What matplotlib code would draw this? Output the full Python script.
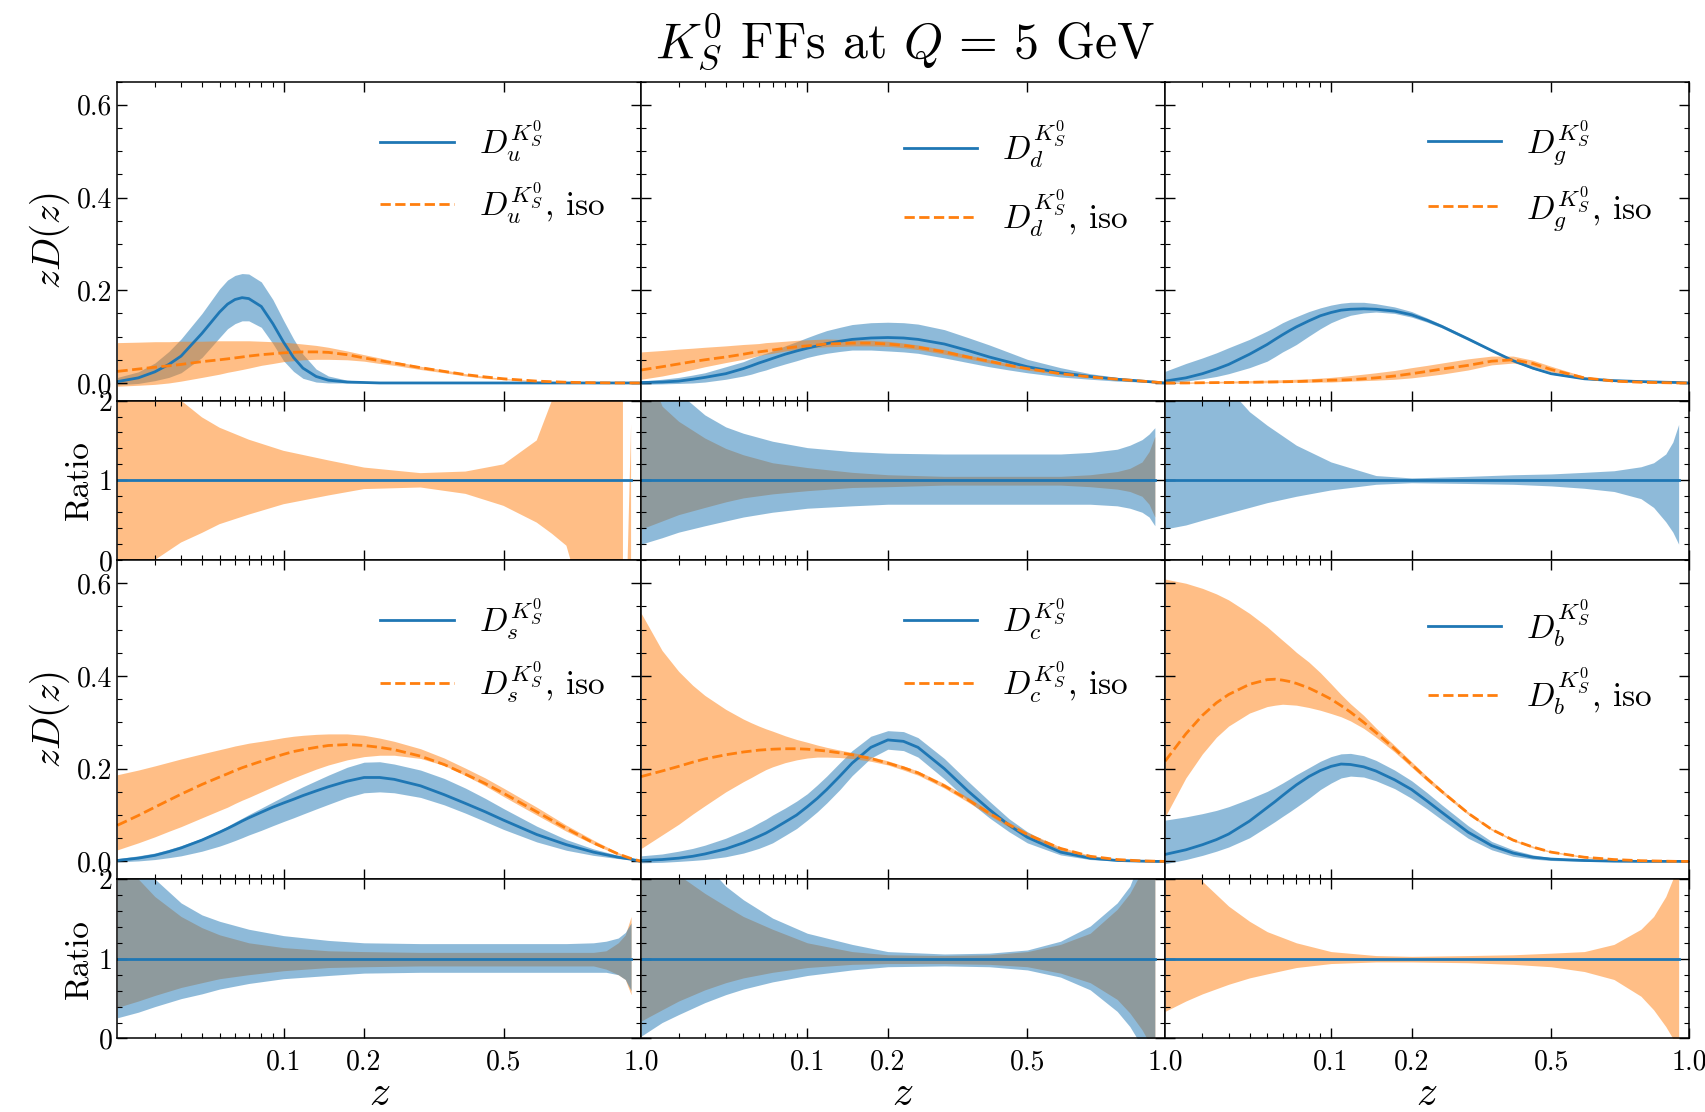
import numpy as np
import matplotlib.pyplot as plt
from matplotlib.ticker import FixedLocator, FixedFormatter, MultipleLocator, FormatStrFormatter

plt.rcParams['mathtext.fontset'] = 'cm'
plt.rcParams['font.family'] = 'serif'
plt.rcParams['font.serif'] = ['cmr10']
plt.rcParams['axes.formatter.use_mathtext'] = True

# z grid of the fragmentation functions
z = [0.01, 0.015, 0.02, 0.025, 0.03, 0.04, 0.05, 0.055, 0.06, 0.065, 0.07, 0.08, 0.09,
     0.1, 0.11, 0.12, 0.135, 0.15, 0.175, 0.2, 0.225, 0.25, 0.3, 0.35, 0.4, 0.45, 0.5,
     0.6, 0.7, 0.8, 0.9, 0.95, 1.0]
# z grid of the ratio bands
zr = [0.01, 0.015, 0.02, 0.03, 0.04, 0.05, 0.07, 0.1, 0.15, 0.2, 0.3, 0.4, 0.5, 0.6,
      0.7, 0.8, 0.85, 0.9, 0.93, 0.955]
zr_u = [0.01, 0.015, 0.02, 0.03, 0.04, 0.05, 0.07, 0.1, 0.15, 0.2, 0.3, 0.4, 0.5, 0.6,
        0.65, 0.7, 0.8, 0.9, 0.92, 0.925, 0.94, 0.955]

# zD(z): central value, lower and upper edge of the band
u_c = [0.003, 0.011, 0.024, 0.040, 0.058, 0.107, 0.153, 0.170, 0.180, 0.184, 0.182, 0.165, 0.128,
       0.088, 0.055, 0.032, 0.014, 0.006, 0.002, 0.001, 0, 0, 0, 0, 0, 0, 0,
       0, 0, 0, 0, 0, 0]
u_lo = [-0.004, -0.001, 0.005, 0.012, 0.022, 0.055, 0.098, 0.117, 0.128, 0.134, 0.134, 0.120, 0.085,
        0.048, 0.025, 0.010, 0.002, 0, 0, 0, 0, 0, 0, 0, 0, 0, 0,
        0, 0, 0, 0, 0, 0]
u_hi = [0.012, 0.024, 0.043, 0.068, 0.095, 0.150, 0.203, 0.222, 0.232, 0.236, 0.235, 0.218, 0.180,
        0.135, 0.095, 0.062, 0.030, 0.015, 0.006, 0.003, 0.0015, 0.001, 0, 0, 0, 0, 0,
        0, 0, 0, 0, 0, 0]
u_iso_c = [0.025, 0.030, 0.034, 0.037, 0.040, 0.046, 0.050, 0.052, 0.054, 0.056, 0.058, 0.061, 0.063,
           0.065, 0.066, 0.067, 0.067, 0.066, 0.061, 0.054, 0.048, 0.043, 0.033, 0.025, 0.018, 0.013, 0.009,
           0.004, 0.0015, 0.0005, 0, 0, 0]
u_iso_lo = [-0.007, -0.005, -0.003, 0.0, 0.004, 0.012, 0.019, 0.023, 0.026, 0.029, 0.032, 0.038, 0.042,
            0.046, 0.048, 0.050, 0.051, 0.051, 0.050, 0.047, 0.042, 0.038, 0.029, 0.022, 0.015, 0.010, 0.007,
            0.003, 0.001, 0.0003, 0, 0, 0]
u_iso_hi = [0.087, 0.088, 0.089, 0.089, 0.090, 0.090, 0.091, 0.091, 0.091, 0.091, 0.091, 0.090, 0.089,
            0.088, 0.086, 0.084, 0.081, 0.077, 0.069, 0.061, 0.054, 0.047, 0.036, 0.028, 0.020, 0.014, 0.010,
            0.0045, 0.002, 0.0007, 0.0002, 0, 0]

d_c = [0.001, 0.002, 0.004, 0.008, 0.012, 0.020, 0.031, 0.037, 0.043, 0.048, 0.053, 0.062, 0.069,
       0.075, 0.080, 0.085, 0.090, 0.094, 0.097, 0.098, 0.097, 0.094, 0.084, 0.070, 0.056, 0.045, 0.035,
       0.022, 0.014, 0.008, 0.004, 0.002, 0.0]
d_lo = [-0.003, -0.002, -0.001, 0.0, 0.002, 0.008, 0.015, 0.019, 0.024, 0.028, 0.033, 0.041, 0.048,
        0.055, 0.060, 0.064, 0.068, 0.071, 0.071, 0.069, 0.067, 0.064, 0.054, 0.044, 0.035, 0.028, 0.022,
        0.013, 0.008, 0.004, 0.002, 0.001, 0.0]
d_hi = [0.004, 0.008, 0.012, 0.017, 0.022, 0.035, 0.046, 0.053, 0.059, 0.064, 0.069, 0.080, 0.089,
        0.098, 0.106, 0.113, 0.120, 0.126, 0.130, 0.131, 0.130, 0.127, 0.115, 0.098, 0.082, 0.066, 0.051,
        0.033, 0.020, 0.012, 0.006, 0.003, 0.0]
d_iso_c = [0.028, 0.035, 0.041, 0.046, 0.050, 0.056, 0.062, 0.065, 0.067, 0.069, 0.071, 0.075, 0.078,
           0.080, 0.082, 0.084, 0.085, 0.086, 0.086, 0.084, 0.081, 0.077, 0.067, 0.056, 0.047, 0.038, 0.031,
           0.020, 0.013, 0.008, 0.004, 0.002, 0.0]
d_iso_lo = [0.008, 0.015, 0.022, 0.029, 0.035, 0.044, 0.051, 0.055, 0.059, 0.062, 0.064, 0.069, 0.072,
            0.075, 0.077, 0.078, 0.079, 0.080, 0.080, 0.079, 0.076, 0.072, 0.062, 0.052, 0.043, 0.035, 0.028,
            0.018, 0.012, 0.007, 0.0035, 0.0018, 0.0]
d_iso_hi = [0.067, 0.070, 0.073, 0.075, 0.077, 0.080, 0.083, 0.084, 0.085, 0.087, 0.088, 0.090, 0.092,
            0.093, 0.094, 0.095, 0.094, 0.093, 0.092, 0.090, 0.086, 0.082, 0.072, 0.060, 0.050, 0.041, 0.033,
            0.022, 0.014, 0.009, 0.0045, 0.0022, 0.0]

g_c = [0.004, 0.011, 0.020, 0.030, 0.040, 0.062, 0.083, 0.094, 0.104, 0.113, 0.121, 0.134, 0.145,
       0.152, 0.157, 0.159, 0.160, 0.159, 0.155, 0.147, 0.135, 0.122, 0.095, 0.070, 0.048, 0.032, 0.020,
       0.009, 0.005, 0.003, 0.0015, 0.001, 0.0]
g_lo = [0.0, 0.004, 0.009, 0.014, 0.020, 0.033, 0.047, 0.057, 0.067, 0.075, 0.083, 0.101, 0.117,
        0.130, 0.139, 0.146, 0.151, 0.153, 0.150, 0.142, 0.131, 0.119, 0.092, 0.068, 0.046, 0.030, 0.019,
        0.008, 0.0045, 0.0027, 0.0013, 0.0009, 0.0]
g_hi = [0.025, 0.042, 0.054, 0.065, 0.076, 0.094, 0.112, 0.121, 0.130, 0.137, 0.143, 0.154, 0.162,
        0.168, 0.172, 0.174, 0.174, 0.171, 0.164, 0.154, 0.140, 0.126, 0.098, 0.072, 0.050, 0.034, 0.021,
        0.010, 0.0055, 0.0033, 0.0017, 0.0011, 0.0]
g_iso_c = [0.0, 0.0, 0.0005, 0.0008, 0.001, 0.0015, 0.002, 0.0022, 0.0025, 0.0028, 0.003, 0.004, 0.005,
           0.006, 0.0065, 0.007, 0.009, 0.011, 0.015, 0.020, 0.025, 0.030, 0.038, 0.047, 0.050, 0.042, 0.029,
           0.011, 0.004, 0.0015, 0.0005, 0.0, 0.0]
g_iso_lo = [-0.001, -0.001, -0.0005, 0.0, 0.0, 0.0, 0.0005, 0.0008, 0.001, 0.0012, 0.0015, 0.0015, 0.002,
            0.002, 0.003, 0.004, 0.005, 0.006, 0.008, 0.011, 0.015, 0.019, 0.028, 0.039, 0.043, 0.036, 0.024,
            0.009, 0.003, 0.001, 0.0003, 0.0, 0.0]
g_iso_hi = [0.0015, 0.002, 0.003, 0.0035, 0.004, 0.005, 0.006, 0.0065, 0.007, 0.0075, 0.008, 0.009, 0.0105,
            0.012, 0.014, 0.016, 0.019, 0.022, 0.027, 0.033, 0.038, 0.043, 0.052, 0.058, 0.058, 0.049, 0.036,
            0.014, 0.006, 0.002, 0.0007, 0.0002, 0.0]

s_c = [0.002, 0.007, 0.013, 0.021, 0.029, 0.046, 0.063, 0.071, 0.079, 0.087, 0.094, 0.106, 0.117,
       0.126, 0.134, 0.142, 0.152, 0.161, 0.173, 0.181, 0.181, 0.177, 0.163, 0.144, 0.125, 0.107, 0.089,
       0.058, 0.036, 0.020, 0.009, 0.005, 0.0]
s_lo = [-0.001, 0.001, 0.004, 0.008, 0.012, 0.022, 0.033, 0.039, 0.045, 0.051, 0.057, 0.067, 0.077,
        0.086, 0.094, 0.102, 0.113, 0.123, 0.138, 0.148, 0.150, 0.148, 0.138, 0.122, 0.104, 0.086, 0.069,
        0.042, 0.024, 0.013, 0.006, 0.004, 0.0]
s_hi = [0.006, 0.012, 0.018, 0.026, 0.034, 0.050, 0.067, 0.076, 0.085, 0.093, 0.101, 0.115, 0.128,
        0.140, 0.151, 0.161, 0.174, 0.186, 0.203, 0.214, 0.215, 0.210, 0.197, 0.179, 0.158, 0.136, 0.114,
        0.076, 0.047, 0.027, 0.013, 0.007, 0.0]
s_iso_c = [0.078, 0.099, 0.117, 0.132, 0.145, 0.166, 0.182, 0.189, 0.196, 0.202, 0.207, 0.216, 0.224,
           0.231, 0.237, 0.241, 0.246, 0.250, 0.252, 0.250, 0.246, 0.241, 0.227, 0.209, 0.188, 0.168, 0.147,
           0.107, 0.071, 0.040, 0.016, 0.007, 0.0]
s_iso_lo = [0.025, 0.040, 0.053, 0.065, 0.075, 0.094, 0.110, 0.117, 0.125, 0.132, 0.138, 0.150, 0.161,
            0.171, 0.180, 0.188, 0.199, 0.208, 0.219, 0.226, 0.229, 0.229, 0.222, 0.207, 0.185, 0.163, 0.140,
            0.100, 0.065, 0.037, 0.014, 0.006, 0.0]
s_iso_hi = [0.187, 0.197, 0.206, 0.214, 0.221, 0.232, 0.241, 0.245, 0.249, 0.252, 0.255, 0.259, 0.263,
            0.267, 0.270, 0.272, 0.274, 0.275, 0.275, 0.272, 0.266, 0.259, 0.243, 0.223, 0.201, 0.180, 0.158,
            0.117, 0.078, 0.046, 0.019, 0.009, 0.0]

c_c = [0.002, 0.004, 0.007, 0.011, 0.016, 0.027, 0.040, 0.047, 0.054, 0.061, 0.069, 0.085, 0.100,
       0.118, 0.136, 0.155, 0.184, 0.212, 0.246, 0.262, 0.259, 0.246, 0.200, 0.152, 0.112, 0.078, 0.052,
       0.020, 0.007, 0.002, 0.0005, 0.0, 0.0]
c_lo = [-0.003, -0.002, 0.0, 0.002, 0.004, 0.010, 0.018, 0.023, 0.028, 0.034, 0.040, 0.056, 0.071,
        0.089, 0.107, 0.126, 0.155, 0.185, 0.223, 0.242, 0.239, 0.225, 0.178, 0.131, 0.094, 0.064, 0.040,
        0.014, 0.004, 0.001, 0.0, 0.0, 0.0]
c_hi = [0.012, 0.016, 0.022, 0.028, 0.035, 0.050, 0.066, 0.074, 0.083, 0.091, 0.100, 0.115, 0.130,
        0.146, 0.165, 0.184, 0.213, 0.239, 0.270, 0.282, 0.280, 0.267, 0.222, 0.173, 0.130, 0.092, 0.064,
        0.026, 0.010, 0.003, 0.001, 0.0, 0.0]
c_iso_c = [0.183, 0.195, 0.205, 0.214, 0.221, 0.230, 0.236, 0.238, 0.240, 0.241, 0.242, 0.243, 0.243,
           0.242, 0.240, 0.238, 0.234, 0.230, 0.222, 0.212, 0.202, 0.191, 0.163, 0.133, 0.104, 0.079, 0.058,
           0.028, 0.011, 0.004, 0.001, 0.0005, 0.0]
c_iso_lo = [0.028, 0.057, 0.080, 0.102, 0.120, 0.150, 0.172, 0.181, 0.190, 0.198, 0.204, 0.213, 0.219,
            0.223, 0.225, 0.225, 0.224, 0.222, 0.216, 0.208, 0.197, 0.186, 0.158, 0.128, 0.099, 0.074, 0.053,
            0.024, 0.009, 0.004, 0.001, 0.0, 0.0]
c_iso_hi = [0.535, 0.455, 0.410, 0.380, 0.358, 0.328, 0.307, 0.299, 0.292, 0.286, 0.281, 0.271, 0.263,
            0.257, 0.251, 0.246, 0.240, 0.235, 0.226, 0.217, 0.206, 0.195, 0.168, 0.138, 0.109, 0.084, 0.063,
            0.031, 0.013, 0.005, 0.0015, 0.0007, 0.0]

b_c = [0.015, 0.025, 0.036, 0.047, 0.059, 0.087, 0.116, 0.129, 0.142, 0.154, 0.165, 0.183, 0.196,
       0.205, 0.210, 0.209, 0.204, 0.195, 0.176, 0.155, 0.130, 0.106, 0.063, 0.034, 0.018, 0.009, 0.005,
       0.002, 0.0005, 0.0, 0.0, 0.0, 0.0]
b_lo = [-0.005, 0.004, 0.013, 0.022, 0.031, 0.051, 0.075, 0.086, 0.097, 0.107, 0.117, 0.136, 0.155,
        0.169, 0.180, 0.184, 0.182, 0.174, 0.157, 0.136, 0.113, 0.090, 0.050, 0.025, 0.011, 0.005, 0.002,
        0.0, 0.0, 0.0, 0.0, 0.0, 0.0]
b_hi = [0.089, 0.096, 0.103, 0.110, 0.118, 0.135, 0.151, 0.160, 0.169, 0.178, 0.187, 0.202, 0.216,
        0.226, 0.232, 0.233, 0.228, 0.218, 0.197, 0.174, 0.148, 0.122, 0.077, 0.043, 0.025, 0.014, 0.008,
        0.003, 0.001, 0.0, 0.0, 0.0, 0.0]
b_iso_c = [0.216, 0.275, 0.315, 0.342, 0.360, 0.382, 0.392, 0.393, 0.391, 0.388, 0.384, 0.374, 0.362,
           0.350, 0.336, 0.322, 0.300, 0.278, 0.243, 0.209, 0.178, 0.151, 0.104, 0.069, 0.046, 0.031, 0.020,
           0.009, 0.004, 0.0015, 0.0005, 0.0, 0.0]
b_iso_lo = [0.096, 0.180, 0.232, 0.268, 0.292, 0.320, 0.334, 0.337, 0.339, 0.338, 0.337, 0.332, 0.326,
            0.319, 0.312, 0.303, 0.287, 0.268, 0.236, 0.203, 0.173, 0.147, 0.101, 0.067, 0.044, 0.029, 0.019,
            0.008, 0.003, 0.001, 0.0003, 0.0, 0.0]
b_iso_hi = [0.609, 0.600, 0.589, 0.577, 0.564, 0.535, 0.506, 0.491, 0.477, 0.464, 0.451, 0.430, 0.407,
            0.383, 0.360, 0.340, 0.315, 0.288, 0.250, 0.215, 0.183, 0.155, 0.107, 0.071, 0.048, 0.033, 0.022,
            0.011, 0.005, 0.002, 0.0007, 0.0002, 0.0]

# relative uncertainty bands (band edge / central value); None where no band is shown
nan = float('nan')
u_r_lo, u_r_hi = None, None
u_iso_r_lo = [-1.0, -0.4, 0.0, 0.22, 0.34, 0.45, 0.57, 0.70, 0.81, 0.89, 0.91, 0.83, 0.68, 0.47,
              0.33, 0.18, -1.0, -3.0, -4.0, nan, -1.0, -1.0]
u_iso_r_hi = [4.0, 3.0, 2.5, 2.0, 1.79, 1.66, 1.51, 1.37, 1.25, 1.16, 1.09, 1.11, 1.20, 1.50,
              2.0, 3.0, 5.0, 8.0, 9.0, nan, 0.0, 1.7]

d_r_lo = [0.20, 0.28, 0.35, 0.43, 0.49, 0.54, 0.60, 0.65, 0.68, 0.70, 0.70, 0.70,
          0.70, 0.70, 0.70, 0.68, 0.65, 0.60, 0.54, 0.43]
d_r_hi = [3.5, 2.5, 2.1, 1.82, 1.67, 1.59, 1.49, 1.41, 1.36, 1.34, 1.33, 1.33,
          1.33, 1.33, 1.35, 1.39, 1.44, 1.51, 1.58, 1.66]
d_iso_r_lo = [0.39, 0.49, 0.57, 0.66, 0.73, 0.78, 0.83, 0.87, 0.91, 0.92, 0.94, 0.94,
              0.94, 0.94, 0.92, 0.89, 0.86, 0.80, 0.70, 0.54]
d_iso_r_hi = [2.6, 1.93, 1.74, 1.53, 1.40, 1.32, 1.22, 1.16, 1.10, 1.07, 1.05, 1.05,
              1.05, 1.05, 1.07, 1.11, 1.15, 1.23, 1.36, 1.55]

g_r_lo = [0.39, 0.44, 0.50, 0.59, 0.66, 0.72, 0.80, 0.88, 0.95, 0.97, 0.96, 0.95,
          0.93, 0.90, 0.86, 0.77, 0.66, 0.48, 0.35, 0.20]
g_r_hi = [3.5, 3.0, 2.6, 2.15, 1.86, 1.69, 1.44, 1.23, 1.06, 1.03, 1.05, 1.07,
          1.08, 1.10, 1.12, 1.17, 1.22, 1.33, 1.48, 1.70]
g_iso_r_lo, g_iso_r_hi = None, None

s_r_lo = [0.26, 0.33, 0.40, 0.50, 0.56, 0.62, 0.69, 0.75, 0.79, 0.82, 0.83, 0.83,
          0.83, 0.83, 0.83, 0.83, 0.83, 0.80, 0.74, 0.60]
s_r_hi = [3.0, 2.4, 2.0, 1.70, 1.55, 1.47, 1.37, 1.29, 1.23, 1.20, 1.19, 1.19,
          1.19, 1.19, 1.19, 1.20, 1.22, 1.26, 1.33, 1.45]
s_iso_r_lo = [0.39, 0.47, 0.54, 0.64, 0.70, 0.75, 0.80, 0.85, 0.89, 0.90, 0.91, 0.91,
              0.91, 0.91, 0.91, 0.91, 0.87, 0.80, 0.74, 0.55]
s_iso_r_hi = [2.5, 2.0, 1.78, 1.53, 1.39, 1.30, 1.20, 1.14, 1.10, 1.09, 1.08, 1.08,
              1.08, 1.08, 1.08, 1.08, 1.10, 1.20, 1.30, 1.53]

c_r_lo = [0.03, 0.20, 0.30, 0.45, 0.55, 0.62, 0.71, 0.79, 0.86, 0.90, 0.91, 0.90,
          0.86, 0.77, 0.61, 0.34, 0.15, -0.10, -0.30, -0.60]
c_r_hi = [5.0, 4.0, 3.2, 2.2, 1.91, 1.74, 1.51, 1.32, 1.18, 1.09, 1.06, 1.07,
          1.11, 1.22, 1.41, 1.70, 1.91, 2.3, 2.8, 3.3]
c_iso_r_lo = [0.22, 0.36, 0.47, 0.61, 0.70, 0.76, 0.83, 0.89, 0.93, 0.94, 0.94, 0.93,
              0.90, 0.82, 0.70, 0.49, 0.32, 0.11, -0.05, -0.30]
c_iso_r_hi = [3.5, 2.7, 2.05, 1.82, 1.66, 1.53, 1.37, 1.20, 1.09, 1.05, 1.04, 1.05,
              1.09, 1.18, 1.32, 1.62, 1.82, 2.1, 2.6, 3.0]

b_r_lo, b_r_hi = None, None
b_iso_r_lo = [0.34, 0.47, 0.56, 0.68, 0.76, 0.81, 0.89, 0.94, 0.96, 0.96, 0.95, 0.93,
              0.90, 0.84, 0.74, 0.53, 0.36, 0.15, 0.0, -0.30]
b_iso_r_hi = [3.5, 2.5, 1.97, 1.66, 1.47, 1.34, 1.20, 1.09, 1.04, 1.03, 1.04, 1.05,
              1.07, 1.09, 1.18, 1.37, 1.53, 1.78, 2.0, 2.5]

flavours = ['u', 'd', 'g', 's', 'c', 'b']
main_data = {
    'u': (u_c, u_lo, u_hi, u_iso_c, u_iso_lo, u_iso_hi),
    'd': (d_c, d_lo, d_hi, d_iso_c, d_iso_lo, d_iso_hi),
    'g': (g_c, g_lo, g_hi, g_iso_c, g_iso_lo, g_iso_hi),
    's': (s_c, s_lo, s_hi, s_iso_c, s_iso_lo, s_iso_hi),
    'c': (c_c, c_lo, c_hi, c_iso_c, c_iso_lo, c_iso_hi),
    'b': (b_c, b_lo, b_hi, b_iso_c, b_iso_lo, b_iso_hi),
}
ratio_data = {
    'u': (u_r_lo, u_r_hi, u_iso_r_lo, u_iso_r_hi),
    'd': (d_r_lo, d_r_hi, d_iso_r_lo, d_iso_r_hi),
    'g': (g_r_lo, g_r_hi, g_iso_r_lo, g_iso_r_hi),
    's': (s_r_lo, s_r_hi, s_iso_r_lo, s_iso_r_hi),
    'c': (c_r_lo, c_r_hi, c_iso_r_lo, c_iso_r_hi),
    'b': (b_r_lo, b_r_hi, b_iso_r_lo, b_iso_r_hi),
}


def cube(x):
    return np.asarray(x) ** 3


def setup_axis(ax, bottom_labels):
    ax.set_xscale('function', functions=(np.cbrt, cube))
    ax.set_xlim(0.01, 1.0)
    ax.xaxis.set_major_locator(FixedLocator([0.1, 0.2, 0.5, 1.0]))
    ax.xaxis.set_minor_locator(FixedLocator([0.02, 0.03, 0.04, 0.05, 0.06, 0.07, 0.08, 0.09]))
    ax.xaxis.set_major_formatter(FixedFormatter(['0.1', '0.2', '0.5', '1.0']))
    ax.xaxis.set_minor_formatter(FixedFormatter([]))
    ax.tick_params(which='both', direction='in', top=True, right=True, labelsize=20)
    ax.tick_params(which='major', length=7, width=1.0)
    ax.tick_params(which='minor', length=3.5, width=0.8)
    ax.tick_params(axis='x', labelbottom=bottom_labels, pad=8)
    for sp in ax.spines.values():
        sp.set_linewidth(1.1)


fig = plt.figure(figsize=(17.05, 11.12), dpi=100)
gs = fig.add_gridspec(4, 3, height_ratios=[2, 1, 2, 1], hspace=0, wspace=0,
                      left=0.0689, right=0.9905, top=0.9266, bottom=0.0661)

for k, fl in enumerate(flavours):
    row, col = divmod(k, 3)
    ax = fig.add_subplot(gs[2 * row, col])
    axr = fig.add_subplot(gs[2 * row + 1, col])
    setup_axis(ax, False)
    setup_axis(axr, row == 1)

    cen, lo, hi, icen, ilo, ihi = main_data[fl]
    ax.fill_between(z, lo, hi, color='C0', alpha=0.5, lw=0)
    ax.fill_between(z, ilo, ihi, color='C1', alpha=0.5, lw=0)
    l1, = ax.plot(z, cen, color='C0', lw=2)
    l2, = ax.plot(z, icen, color='C1', ls='--', lw=2)
    ax.set_ylim(-0.038, 0.65)
    ax.yaxis.set_major_locator(MultipleLocator(0.2))
    ax.yaxis.set_minor_locator(MultipleLocator(0.05))
    ax.yaxis.set_major_formatter(FormatStrFormatter('%.1f'))

    lab = r'D_{%s}^{K_S^0}' % fl
    ax.legend([l1, l2], ['$%s$' % lab, '$%s$, iso' % lab], loc='upper right',
              frameon=False, fontsize=24, handlelength=2.2, handletextpad=0.75,
              labelspacing=0.5, borderaxespad=0.7)

    r_lo, r_hi, ir_lo, ir_hi = ratio_data[fl]
    zz = zr_u if fl == 'u' else zr
    if ir_lo is not None:
        axr.fill_between(zz, ir_lo, ir_hi, color='C1', alpha=0.5, lw=0)
    if r_lo is not None:
        axr.fill_between(zz, r_lo, r_hi, color='C0', alpha=0.5, lw=0)
    axr.plot(zr, np.ones(len(zr)), color='C0', lw=2)
    axr.set_ylim(0, 2)
    axr.yaxis.set_major_locator(MultipleLocator(1))
    axr.yaxis.set_minor_locator(MultipleLocator(0.2))
    axr.yaxis.set_major_formatter(FormatStrFormatter('%d'))

    if col == 0:
        ax.set_ylabel(r'$zD(z)$', fontsize=28)
        axr.set_ylabel('Ratio', fontsize=24)
    else:
        ax.tick_params(axis='y', labelleft=False)
        axr.tick_params(axis='y', labelleft=False)
    if row == 1:
        axr.set_xlabel(r'$z$', fontsize=30, labelpad=0)

fig.text(0.531, 0.963, r'$K_S^0$ FFs at $Q\,=\,5$ GeV', fontsize=36, ha='center', va='center')

fig.savefig('out.png', dpi=100)
